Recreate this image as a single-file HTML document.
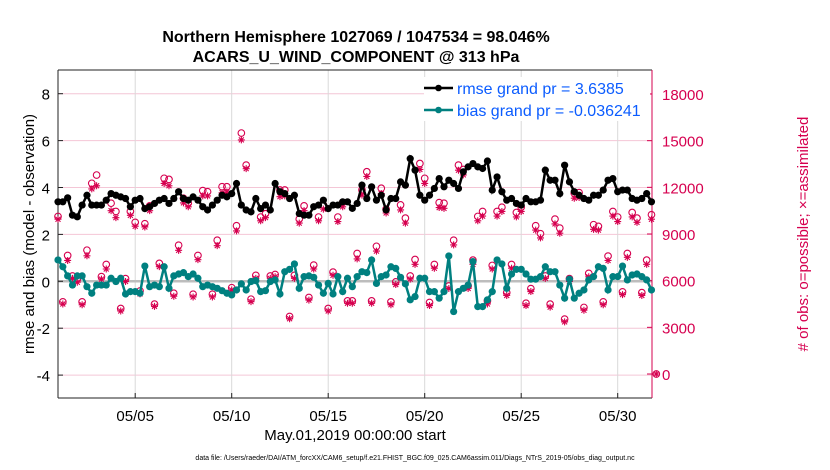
<!DOCTYPE html>
<html><head><meta charset="utf-8"><style>
body{margin:0;background:#fff;}
svg{display:block;font-family:"Liberation Sans",sans-serif;}
</style></head><body>
<svg id="chart" width="830" height="470" viewBox="0 0 830 470">
<rect width="830" height="470" fill="#fff"/>
<text x="356" y="42" text-anchor="middle" font-size="16" font-weight="bold">Northern Hemisphere 1027069 / 1047534 = 98.046%</text>
<text x="356" y="62" text-anchor="middle" font-size="16" font-weight="bold">ACARS_U_WIND_COMPONENT @ 313 hPa</text>
<g id="grid"></g>
<g id="axes"></g>
<g id="obs"></g>
<g id="series"></g>
<g id="legend"></g>
<text transform="translate(34,234) rotate(-90)" text-anchor="middle" font-size="15">rmse and bias (model - observation)</text>
<text transform="translate(808,234) rotate(-90)" text-anchor="middle" font-size="15" fill="#d6004f"># of obs: o=possible; ×=assimilated</text>
<text x="355" y="440" text-anchor="middle" font-size="15">May.01,2019 00:00:00 start</text>
<text x="415" y="460" text-anchor="middle" font-size="7">data file: /Users/raeder/DAI/ATM_forcXX/CAM6_setup/f.e21.FHIST_BGC.f09_025.CAM6assim.011/Diags_NTrS_2019-05/obs_diag_output.nc</text>
</svg>
<script>
const xTickDays=[4,9,14,19,24,29];
const xTickLabels=["05/05","05/10","05/15","05/20","05/25","05/30"];
const yTicksLeft=[-4,-2,0,2,4,6,8];
const yTicksRight=[0,3000,6000,9000,12000,15000,18000];
const rmse=[3.39,3.39,3.56,2.82,2.75,3.25,3.67,3.25,3.25,3.25,3.46,3.74,3.67,3.6,3.53,3.18,3.46,3.53,3.1,3.18,3.32,3.46,3.53,3.32,3.53,3.82,3.53,3.46,3.6,3.46,3.18,3.04,3.25,3.46,3.67,3.6,3.74,4.17,3.25,3.04,2.96,3.53,3.1,3.25,3.04,4.17,3.82,3.74,3.53,3.67,2.89,2.82,2.82,3.18,3.25,3.46,3.1,3.25,3.25,3.39,3.39,
3.11,3.32,4.10,3.53,4.03,3.46,3.67,3.04,3.53,3.53,4.24,4.10,5.23,4.74,3.67,3.46,3.67,3.96,4.38,4.03,4.31,4.17,3.96,4.67,4.88,5.02,4.88,4.81,5.13,3.89,4.45,3.82,3.46,3.53,3.32,3.25,3.53,3.39,3.39,3.46,4.74,4.31,4.31,3.74,4.95,4.24,3.82,3.67,3.53,3.46,3.67,3.67,3.89,4.31,4.38,3.82,3.89,3.89,3.53,3.46,3.53,3.74,3.39];
const bias=[0.91,0.62,0.23,-0.16,0.23,0.23,-0.23,-0.51,-0.16,-0.16,-0.16,0.13,-0.01,0.13,-0.54,-0.44,-0.44,-0.51,0.65,-0.23,-0.16,-0.23,0.62,-0.30,0.23,0.31,0.37,0.2,0.31,0.13,-0.23,-0.16,-0.23,-0.3,-0.4,-0.51,-0.58,-0.37,-0.11,-0.37,-0.01,0.03,-0.44,-0.4,-0.01,0.06,-0.54,0.41,0.51,0.74,-0.3,0.2,0.23,0.17,-0.16,-0.51,-0.09,-0.54,0.2,-0.44,0.13,
-0.23,0.2,0.41,0.37,0.91,-0.09,0.2,0.27,0.62,0.55,0.17,-0.11,-0.79,-0.65,0.13,0.13,-0.44,-0.44,-0.72,-0.44,1.08,-1.29,-0.44,-0.3,-0.16,0.84,-1.08,-1.08,-0.79,-0.44,0.91,0.74,-0.3,0.31,0.51,0.51,0.31,0.09,0.09,0.2,0.62,0.41,0.41,-0.16,-0.72,0.09,-0.72,-0.51,-0.37,0.06,0.2,0.62,0.55,-0.37,0.2,0.2,0.65,0.06,0.27,0.31,0.2,0.06,-0.37];
const obsPossible=[10130,4640,7620,6300,6090,4640,7960,12260,12790,6260,7040,10980,10450,4210,6130,10450,9750,5340,9660,10810,4490,7110,12580,12510,5190,8280,11300,10980,5130,7620,11790,11720,5130,8600,12040,12040,5550,9530,15490,13430,4810,6340,10090,10300,6300,6400,11830,11830,3700,6340,9960,10810,4920,7000,10090,10870,4210,6550,10090,11020,4700,
4700,7750,11830,13000,4700,8210,11940,10600,4640,5920,10870,10020,6300,7360,13530,12580,4600,7040,11020,10980,5660,8600,13430,13150,5660,7320,10130,10450,4700,6980,10450,10720,5230,7040,10380,10720,4550,5490,9530,9020,6300,4490,9960,9380,3530,6130,11620,11660,4280,6470,9600,9490,4640,7580,10450,10090,5280,7750,10380,10020,5230,7320,10240,0];
const obsAssim=[9950,4500,7300,6150,5900,4450,7600,11900,12100,6100,6750,10500,10050,4050,5950,10200,9500,5150,9450,10500,4350,6900,12250,12100,5000,7950,11000,10750,4950,7350,11450,11450,4950,8250,11650,11700,5400,9200,15050,13200,4650,6150,9850,10050,6150,6250,11400,11450,3550,6150,9700,10500,4750,6750,9850,10600,4050,6350,9800,10750,4550,
4550,7400,11500,12700,4550,7900,11600,10350,4450,5750,10550,9700,6100,7050,13150,12250,4400,6800,10700,10650,5500,8300,13100,12800,5500,7050,9850,10150,4500,6750,10150,10450,5050,6800,10100,10450,4400,5300,9250,8750,6150,4300,9650,9050,3350,5950,11300,11350,4100,6250,9300,9250,4450,7300,10150,9800,5100,7500,10100,9750,5050,7050,9950,0];
</script>
<script>
const NS="http://www.w3.org/2000/svg";
const L=58,R=652,T=70,B=398;
const dayPx=19.3;
function xs(i){return L+i*0.25*dayPx;}
function xd(d){return L+d*dayPx;}
function yl(v){return 281.3-v*23.45;}
function yr(n){return 374-n*280/18000;}
function mk(tag,attrs,parent){const e=document.createElementNS(NS,tag);for(const k in attrs)e.setAttribute(k,attrs[k]);parent.appendChild(e);return e;}
const grid=document.getElementById('grid'),axes=document.getElementById('axes'),obs=document.getElementById('obs'),ser=document.getElementById('series'),leg=document.getElementById('legend');
mk('rect',{x:L,y:T,width:R-L,height:B-T,fill:'#fff'},grid);
yTicksLeft.forEach(v=>{const g=mk('line',{x1:L,x2:R,y1:yl(v),y2:yl(v),stroke:'#f4c6d6','stroke-width':1},grid);


const t=mk('text',{x:L-8,y:yl(v)+6,'text-anchor':'end','font-size':15},axes);t.textContent=v;


mk('line',{x1:L,x2:L+5,y1:yl(v),y2:yl(v),stroke:'#222'},axes);});
xTickDays.forEach((d,i)=>{const g=mk('line',{x1:xd(d),x2:xd(d),y1:T,y2:B,stroke:'#d9d9d9','stroke-width':1},grid);


mk('line',{x1:xd(d),x2:xd(d),y1:B,y2:B-5,stroke:'#222'},axes);
const t=mk('text',{x:xd(d),y:B+23,'text-anchor':'middle','font-size':15},axes);t.textContent=xTickLabels[i];

});
yTicksRight.forEach(n=>{mk('line',{x1:R,x2:R-5,y1:yr(n),y2:yr(n),stroke:'#d6004f'},axes);
const t=mk('text',{x:R+10,y:yr(n)+6,'font-size':15,fill:'#d6004f'},axes);t.textContent=n;

});
mk('line',{x1:L,x2:R,y1:yl(0),y2:yl(0),stroke:'#bdbdbd','stroke-width':2.5},grid);
mk('line',{x1:L,x2:L,y1:T,y2:B,stroke:'#222'},axes);
mk('line',{x1:L,x2:R,y1:B,y2:B,stroke:'#222'},axes);
mk('line',{x1:L,x2:R,y1:T,y2:T,stroke:'#222'},axes);
mk('line',{x1:R,x2:R,y1:T,y2:B,stroke:'#d6004f'},axes);
obsPossible.forEach((n,i)=>{const c=mk('circle',{cx:xs(i),cy:yr(n),r:3.3,fill:'none',stroke:'#d6004f','stroke-width':1.1},obs);

});
obsAssim.forEach((n,i)=>{const x=xs(i),y=yr(n);const g=mk('path',{d:`M${x-3.5},${y}H${x+3.5}M${x},${y-3.5}V${y+3.5}M${x-2.5},${y-2.5}L${x+2.5},${y+2.5}M${x-2.5},${y+2.5}L${x+2.5},${y-2.5}`,stroke:'#d6004f','stroke-width':1.1},obs);

});
function series(arr,color,name){
const p=mk('polyline',{points:arr.map((v,i)=>xs(i)+','+yl(v)).join(' '),fill:'none',stroke:color,'stroke-width':2.5},ser);


arr.forEach((v,i)=>{const c=mk('circle',{cx:xs(i),cy:yl(v),r:3.6,fill:color},ser);

});}
series(rmse,'#000','rmse');
series(bias,'#008080','bias');
mk('rect',{x:424,y:77,width:226,height:44,fill:'#fff'},leg);
[['#000','rmse grand pr = 3.6385',88],['#008080','bias grand pr = -0.036241',110]].forEach(([c,txt,y])=>{
mk('line',{x1:424,x2:453,y1:y,y2:y,stroke:c,'stroke-width':2.5},leg);
mk('circle',{cx:438.5,cy:y,r:3.3,fill:c},leg);
const t=mk('text',{x:457,y:y+6,'font-size':16,fill:'#0b5cff'},leg);t.textContent=txt;

});
</script>
</body></html>
